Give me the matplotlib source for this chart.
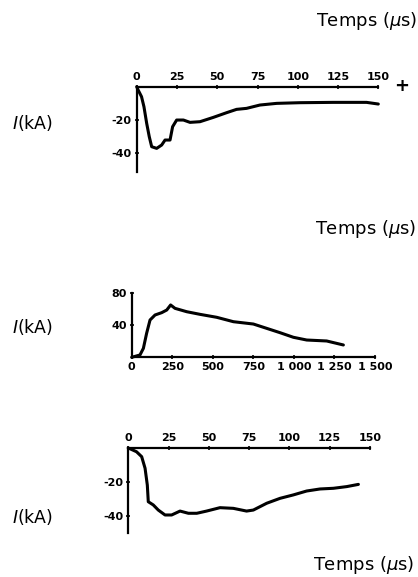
import numpy as np
from matplotlib import pyplot as plt

##########################################################################
# Courbes de courant de foudre

# Courbe 1 : 0 - 150 us
t1 = [0, 0.9, 3, 4.5, 6.2, 7.8, 9.3, 12.4, 15.5, 17.6, 20.7, 22.3, 24.8, 29,
      33.1, 39.3, 47.6, 55.8, 62, 68.2, 76.5, 86.9, 101.3, 122, 142.7, 150]
i1 = [0, -2, -6, -12, -22, -30, -36, -37, -35, -32, -32, -24, -20, -20,
      -21.4, -21, -18.4, -15.6, -13.6, -13, -11, -10, -9.6, -9.4, -9.4, -10.4]

# Courbe 2 : 0 - 1500 us
t2 = [0, 51, 72, 92, 113, 144, 185, 216, 240, 267, 339, 421, 524, 627, 750,
      832, 914, 997, 1079, 1202, 1305]
i2 = [0, 2.9, 11.2, 30, 46.6, 52.9, 55.8, 59.1, 65.4, 61.2, 57, 53.7, 50,
      44.5, 41.6, 36.2, 30.8, 25, 21.6, 20.4, 15.4]

# Courbe 3 : 0 - 150 us
t3 = [0, 5.1, 8.3, 10.4, 11.8, 12.4, 15.5, 18.6, 22.8, 26.9, 32.1, 37.3,
      42.5, 48.6, 56.9, 65.2, 73.4, 77.6, 85.9, 94.2, 102.4, 110.7, 119,
      127.3, 135.6, 142.8]
i3 = [0, -2.2, -5.1, -11.9, -21.8, -31.6, -33.5, -36.5, -39.4, -39.4, -37.1,
      -38.4, -38.4, -37.1, -35.1, -35.5, -37.1, -36.5, -32.5, -29.6, -27.6,
      -25.3, -24.1, -23.7, -22.7, -21.4]

ticks_us = [0, 25, 50, 75, 100, 125, 150]
ticks_long = [0, 250, 500, 750, 1000, 1250, 1500]
ticks_long_lab = ['0', '250', '500', '750', '1 000', '1 250', '1 500']
ticks_neg = [-20, -40]
ticks_pos = [40, 80]

##########################################################################
W, H = 418, 577
fig = plt.figure(figsize=(W / 100, H / 100), dpi=100)


def box(x0, y0, x1, y1):
    # pixels (haut gauche origine) -> coordonnees figure
    return [x0 / W, (H - y1) / H, (x1 - x0) / W, (y1 - y0) / H]


def txt(x, y, s, **kw):
    fig.text(x / W, 1 - y / H, s, **kw)


lab_font = dict(fontsize=8, fontweight='bold')


def neg_panel(rect, t, i):
    ax = fig.add_axes(rect)
    ax.plot(t, i, color='black', linewidth=2.2, clip_on=False,
            solid_capstyle='round')
    ax.set_xlim(0, 150)
    ax.set_ylim(-51, 0)
    for s in ['bottom', 'right']:
        ax.spines[s].set_visible(False)
    for s in ['top', 'left']:
        ax.spines[s].set_linewidth(1.6)
    ax.xaxis.tick_top()
    ax.set_xticks(ticks_us)
    ax.set_xticklabels([str(v) for v in ticks_us], **lab_font)
    ax.set_yticks(ticks_neg)
    ax.set_yticklabels(['-20', '-40'], **lab_font)
    ax.tick_params(axis='both', direction='inout', length=3, width=1.2,
                   pad=2)
    ax.patch.set_alpha(0)
    return ax


###############################################################
# Panneau 1
ax1 = neg_panel(box(136.7, 86.7, 378.3, 171.7), t1, i1)
txt(417, 21, r'Temps ($\mu$s)', fontsize=13, ha='right', va='center')
txt(12, 123, r'$I$(kA)', fontsize=12.5, ha='left', va='center')
txt(402, 86, '+', fontsize=13, fontweight='bold', ha='center', va='center')

###############################################################
# Panneau 2
ax2 = fig.add_axes(box(131.7, 293.3, 375, 357.3))
ax2.plot(t2, i2, color='black', linewidth=2.2, clip_on=False,
         solid_capstyle='round')
ax2.set_xlim(0, 1500)
ax2.set_ylim(0, 80)
for s in ['top', 'right']:
    ax2.spines[s].set_visible(False)
for s in ['bottom', 'left']:
    ax2.spines[s].set_linewidth(1.6)
ax2.set_xticks(ticks_long)
ax2.set_xticklabels(ticks_long_lab, **lab_font)
ax2.set_yticks(ticks_pos)
ax2.set_yticklabels(['40', '80'], **lab_font)
ax2.tick_params(axis='both', direction='inout', length=3, width=1.2, pad=2)
ax2.patch.set_alpha(0)
txt(416, 229, r'Temps ($\mu$s)', fontsize=13, ha='right', va='center')
txt(12, 327, r'$I$(kA)', fontsize=12.5, ha='left', va='center')

###############################################################
# Panneau 3
ax3 = neg_panel(box(128.3, 448, 370, 533), t3, i3)
ax3.set_ylim(-50, 0)
txt(414, 565, r'Temps ($\mu$s)', fontsize=13, ha='right', va='center')
txt(12, 517, r'$I$(kA)', fontsize=12.5, ha='left', va='center')

plt.savefig('out.png', dpi=100)
